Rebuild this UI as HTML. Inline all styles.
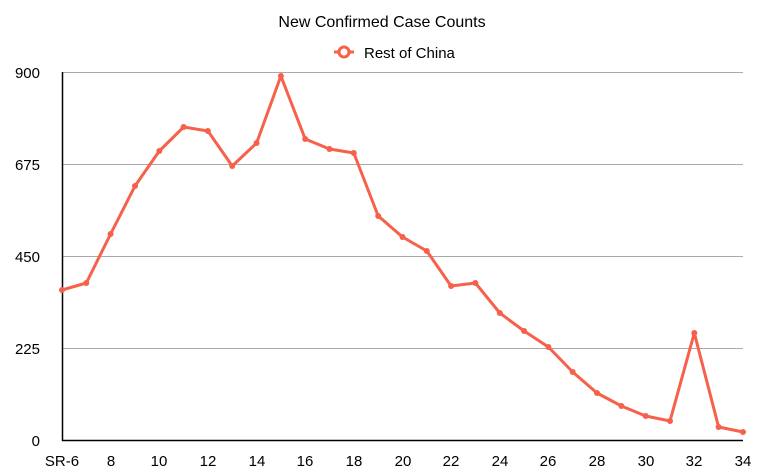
<!DOCTYPE html>
<html><head><style>
body{margin:0;background:#fff;}
svg{display:block;font-family:"Liberation Sans",sans-serif;}
</style></head><body>
<svg width="764" height="476" xmlns="http://www.w3.org/2000/svg">
<text x="382" y="27" text-anchor="middle" font-size="16" fill="#000">New Confirmed Case Counts</text>
<line x1="334" y1="52" x2="354" y2="52" stroke="#f7604b" stroke-width="3"/>
<circle cx="344" cy="52" r="5" fill="#fff" stroke="#f7604b" stroke-width="3"/>
<text x="364" y="58" font-size="15" fill="#000">Rest of China</text>
<g stroke="#aaa" stroke-width="1">
<line x1="62" y1="72.5" x2="743" y2="72.5"/>
<line x1="62" y1="164.5" x2="743" y2="164.5"/>
<line x1="62" y1="256.5" x2="743" y2="256.5"/>
<line x1="62" y1="348.5" x2="743" y2="348.5"/>
</g>
<line x1="62.5" y1="72" x2="62.5" y2="441" stroke="#000" stroke-width="1.5"/>
<line x1="62" y1="440.5" x2="743" y2="440.5" stroke="#000" stroke-width="1.5"/>
<g font-size="15" fill="#000" text-anchor="end">
<text x="40" y="78">900</text>
<text x="40" y="170">675</text>
<text x="40" y="262">450</text>
<text x="40" y="354">225</text>
<text x="40" y="446">0</text>
</g>
<g font-size="15" fill="#000" text-anchor="middle">
<text x="62" y="466">SR-6</text>
<text x="111" y="466">8</text>
<text x="159" y="466">10</text>
<text x="208" y="466">12</text>
<text x="257" y="466">14</text>
<text x="305" y="466">16</text>
<text x="354" y="466">18</text>
<text x="403" y="466">20</text>
<text x="451" y="466">22</text>
<text x="500" y="466">24</text>
<text x="548" y="466">26</text>
<text x="597" y="466">28</text>
<text x="646" y="466">30</text>
<text x="694" y="466">32</text>
<text x="743" y="466">34</text>
</g>
<polyline fill="none" stroke="#f7604b" stroke-width="3" stroke-linejoin="round" points="62,290 86.3,283 110.6,234 135,186 159.3,151 183.6,127 207.9,131 232.2,166 256.6,143 280.9,76 305.2,139 329.5,149 353.8,153 378.2,216 402.5,237 426.8,251 451.1,286 475.4,283 499.8,313 524.1,331 548.4,347 572.7,372 597,393 621.4,406 645.7,416 670,421 694.3,333 718.6,427 743,432"/>
<g fill="#f7604b">
<circle cx="62" cy="290" r="3"/><circle cx="86.3" cy="283" r="3"/><circle cx="110.6" cy="234" r="3"/><circle cx="135" cy="186" r="3"/><circle cx="159.3" cy="151" r="3"/><circle cx="183.6" cy="127" r="3"/><circle cx="207.9" cy="131" r="3"/><circle cx="232.2" cy="166" r="3"/><circle cx="256.6" cy="143" r="3"/><circle cx="280.9" cy="76" r="3"/><circle cx="305.2" cy="139" r="3"/><circle cx="329.5" cy="149" r="3"/><circle cx="353.8" cy="153" r="3"/><circle cx="378.2" cy="216" r="3"/><circle cx="402.5" cy="237" r="3"/><circle cx="426.8" cy="251" r="3"/><circle cx="451.1" cy="286" r="3"/><circle cx="475.4" cy="283" r="3"/><circle cx="499.8" cy="313" r="3"/><circle cx="524.1" cy="331" r="3"/><circle cx="548.4" cy="347" r="3"/><circle cx="572.7" cy="372" r="3"/><circle cx="597" cy="393" r="3"/><circle cx="621.4" cy="406" r="3"/><circle cx="645.7" cy="416" r="3"/><circle cx="670" cy="421" r="3"/><circle cx="694.3" cy="333" r="3"/><circle cx="718.6" cy="427" r="3"/><circle cx="743" cy="432" r="3"/>
</g>
</svg>
</body></html>
